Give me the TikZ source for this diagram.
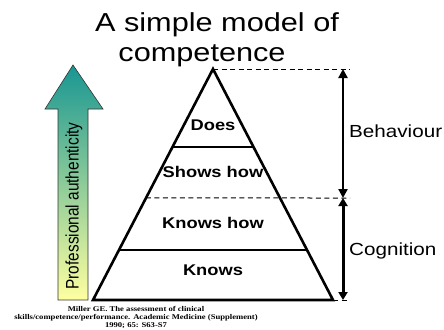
\documentclass[tikz,border=0pt]{standalone}
\usepackage{fontspec}
\setmainfont{Liberation Sans}
\newfontfamily\citefont{Liberation Serif}
\usetikzlibrary{arrows.meta,calc}
\definecolor{tealtop}{RGB}{24,150,146}
\definecolor{paleyellow}{RGB}{255,255,160}
\newcommand{\wide}[1]{\scalebox{1.18}[1]{#1}}
\begin{document}
\begin{tikzpicture}[x=1pt,y=-1pt,
  titletext/.style={font=\fontsize{26}{30}\selectfont, inner sep=0pt, anchor=base},
  lvl/.style={font=\fontsize{15.5}{18}\selectfont\bfseries, inner sep=0pt},
  side/.style={font=\fontsize{17.5}{20}\selectfont, inner sep=0pt, anchor=base west},
  cite/.style={font=\citefont\bfseries\fontsize{7.3}{8}\selectfont, inner sep=0pt, anchor=base},
  outline/.style={line width=2.6pt, line join=miter},
  divider/.style={line width=1.2pt},
  guide/.style={line width=1pt, dash pattern=on 5pt off 3.5pt}
]
\useasboundingbox (0,0) rectangle (444,329);
\clip (0,0) rectangle (444,329);

% title
\node[titletext] (t1) at (217,32) {\wide{A simple model of}};
\node[titletext] (t2) at (202,61) {\wide{competence}};

% gradient arrow
\shade[top color=tealtop, bottom color=paleyellow, draw=black!80, line width=0.6pt]
  (73,65) -- (103,109) -- (88,109) -- (88,300) -- (58,300) -- (58,109) -- (45,109) -- cycle;
\node[rotate=90, inner sep=0pt, font=\fontsize{15.4}{18}\selectfont] (pa) at (74,206)
  {\scalebox{1}[1.18]{Professional authenticity}};

% pyramid
\coordinate (A) at (213,69);
\coordinate (BL) at (93,300);
\coordinate (BR) at (333,300);
\coordinate (L1) at ($(A)!0.3377!(BL)$);
\coordinate (R1) at ($(A)!0.3377!(BR)$);
\coordinate (L2) at ($(A)!0.5584!(BL)$);
\coordinate (R2) at ($(A)!0.5584!(BR)$);
\coordinate (L3) at ($(A)!0.7835!(BL)$);
\coordinate (R3) at ($(A)!0.7835!(BR)$);

\draw[divider] (L1) -- (R1);
\draw[guide] (L2) -- (350,198);
\draw[divider] (L3) -- (R3);
\draw[outline] (A) -- (BR) -- (BL) -- cycle;

\node[lvl] (does) at (213,125) {\wide{Does}};
\node[lvl] (shows) at (213,172) {\wide{Shows how}};
\node[lvl] (knowshow) at (213,223) {\wide{Knows how}};
\node[lvl] (knows) at (213,270) {\wide{Knows}};

% guides
\coordinate (gt) at (350,69);
\coordinate (gb) at (350,300);
\draw[guide] (A) -- (gt);
\draw[guide] (BR) -- (gb);

% span arrows
\coordinate (a1) at (343,69);
\coordinate (a2) at (343,198);
\coordinate (a3) at (343,300);
\draw[line width=2.2pt, {Triangle[length=9pt,width=9pt]}-{Triangle[length=9pt,width=9pt]}] (a1) -- (a2);
\draw[line width=3pt, {Triangle[length=8pt,width=9pt]}-{Triangle[length=8pt,width=9pt]}] (a2) -- (a3);

\node[side] (beh) at (349,137) {\wide{Behaviour}};
\node[side] (cog) at (349,255) {\wide{Cognition}};

% citation
\node[cite] (c1) at (136,311.5) {\wide{Miller GE. The assessment of clinical}};
\node[cite] (c2) at (136,319.5) {\wide{skills/competence/performance. Academic Medicine (Supplement)}};
\node[cite] (c3) at (136,327.2) {\wide{1990; 65: S63-S7}};
\end{tikzpicture}
\end{document}
